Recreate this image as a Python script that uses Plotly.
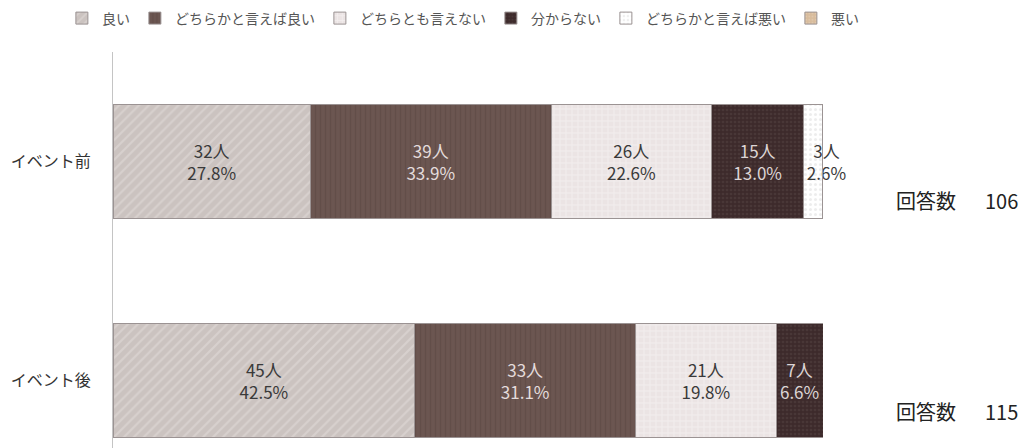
import plotly.graph_objects as go

# Survey responses before / after the event
periods = ["イベント前", "イベント後"]
answers = ["良い", "どちらかと言えば良い", "どちらとも言えない", "分からない", "どちらかと言えば悪い", "悪い"]

# Headcount per answer (rows follow `answers`, columns follow `periods`)
counts = {
    "良い": [32, 45],
    "どちらかと言えば良い": [39, 33],
    "どちらとも言えない": [26, 21],
    "分からない": [15, 7],
    "どちらかと言えば悪い": [3, 0],
    "悪い": [0, 0],
}
# Share of respondents (%) per answer
shares = {
    "良い": [27.8, 42.5],
    "どちらかと言えば良い": [33.9, 31.1],
    "どちらとも言えない": [22.6, 19.8],
    "分からない": [13.0, 6.6],
    "どちらかと言えば悪い": [2.6, 0.0],
    "悪い": [0.0, 0.0],
}
respondents = ["回答数　  106", "回答数　  115"]

FONT = "Noto Sans CJK JP"

styles = {
    "良い": dict(bg="#cbc3c0", fg="#e4dedb", shape="/", size=7, solidity=0.3, txt="#3a3a3a", anchor="middle"),
    "どちらかと言えば良い": dict(bg="#6b5651", fg="#5a4641", shape="|", size=5, solidity=0.3, txt="#e4dcdc", anchor="middle"),
    "どちらとも言えない": dict(bg="#ebe4e4", fg="#faf7f7", shape="+", size=6, solidity=0.3, txt="#3a3a3a", anchor="middle"),
    "分からない": dict(bg="#3d2a2b", fg="#564344", shape=".", size=4, solidity=0.35, txt="#ddd5d5", anchor="middle"),
    "どちらかと言えば悪い": dict(bg="#ffffff", fg="#dcdcdc", shape=".", size=5, solidity=0.3, txt="#3a3a3a", anchor="start"),
    "悪い": dict(bg="#d8bc9c", fg="#e6d2bb", shape=".", size=4, solidity=0.3, txt="#3a3a3a", anchor="middle"),
}

ypos = list(range(len(periods)))

fig = go.Figure()
for a in answers:
    st = styles[a]
    labels = [
        f"{c}人<br>{s:.1f}%" if c > 0 else ""
        for c, s in zip(counts[a], shares[a])
    ]
    fig.add_trace(go.Bar(
        name=a,
        y=ypos,
        x=shares[a],
        orientation="h",
        width=0.52,
        marker=dict(
            color=st["bg"],
            line=dict(color="#9b9393", width=1),
            pattern=dict(shape=st["shape"], fgcolor=st["fg"], bgcolor=st["bg"],
                         size=st["size"], solidity=st["solidity"], fillmode="overlay"),
        ),
        text=labels,
        textposition="inside",
        insidetextanchor=st["anchor"],
        constraintext="none",
        cliponaxis=False,
        textfont=dict(family=FONT, size=17, color=st["txt"]),
        hoverinfo="skip",
    ))

ann_y = [0.178, 1.145]
for i, r in enumerate(respondents):
    fig.add_annotation(
        text=r, xref="paper", yref="y", x=1.1, y=ann_y[i],
        xanchor="left", yanchor="middle", showarrow=False,
        font=dict(family=FONT, size=20, color="#222222"),
    )

fig.update_layout(
    width=1026, height=448,
    margin=dict(l=113, r=203, t=52, b=0),
    barmode="stack",
    plot_bgcolor="white", paper_bgcolor="white",
    showlegend=True,
    legend=dict(
        orientation="h", x=-0.072, xanchor="left", y=1.125, yanchor="top",
        font=dict(family=FONT, size=14, color="#555555"),
        traceorder="normal", itemwidth=30,
    ),
    xaxis=dict(range=[0, 100], visible=False, fixedrange=True),
    yaxis=dict(
        tickvals=ypos, ticktext=periods, range=[1.31, -0.5],
        showline=True, linecolor="#c4c4c4", linewidth=1,
        showgrid=False, zeroline=False, ticks="",
        ticklabelstandoff=18,
        tickfont=dict(family=FONT, size=16, color="#333333"),
    ),
    font=dict(family=FONT),
)

fig.write_html("out.html")
